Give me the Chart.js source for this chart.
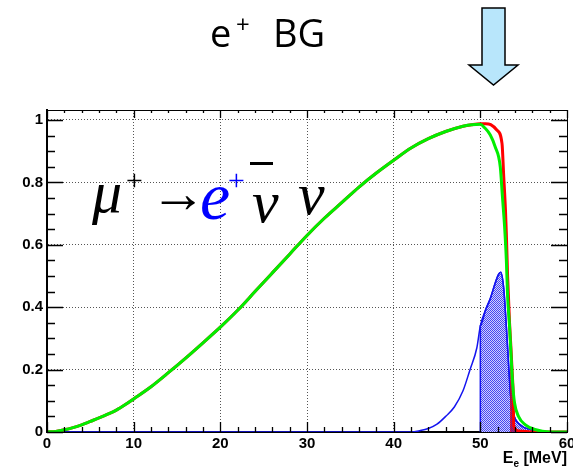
<!DOCTYPE html>
<html>
<head>
<meta charset="utf-8">
<title>e+ BG</title>
<script src="https://cdn.jsdelivr.net/npm/chart.js@4.4.1/dist/chart.umd.min.js"></script>
<style>
  html, body { margin: 0; padding: 0; background: #fff; }
  #chart { display: block; }
</style>
</head>
<body>
<canvas id="chart" width="573" height="469"></canvas>
<script>
// rising part, identical for both efficiency curves (MeV, fraction)
const riseE   = [0, 1, 2, 3, 4, 5, 6, 7, 8, 9, 10, 12, 14, 16, 18, 20, 22, 24, 26, 28, 30, 32, 34, 36, 38, 40, 42, 44, 46, 48, 49];
const riseEff = [0, 0.002, 0.007, 0.014, 0.023, 0.034, 0.045, 0.057, 0.07, 0.087, 0.106, 0.145, 0.19, 0.237, 0.286, 0.336, 0.39, 0.45, 0.51, 0.57, 0.63, 0.685, 0.735, 0.785, 0.83, 0.871, 0.91, 0.94, 0.963, 0.98, 0.985];

// red curve above 50 MeV
const redTailE   = [50, 50.6, 51.2, 51.9, 52.5, 52.7, 52.9, 53.0, 53.15, 53.37, 53.5, 53.7, 53.8, 53.85, 54.5, 56.5, 60];
const redTailEff = [0.988, 0.988, 0.985, 0.968, 0.925, 0.818, 0.711, 0.637, 0.497, 0.35, 0.285, 0.178, 0.114, 0.02, 0.003, 0, 0];

// green curve above 50 MeV
const greenTailE   = [50, 50.5, 51.15, 51.7, 52.3, 52.55, 52.8, 53.0, 53.15, 53.37, 53.57, 53.72, 53.95, 54.4, 55.2, 56.3, 58, 60];
const greenTailEff = [0.986, 0.975, 0.952, 0.915, 0.85, 0.754, 0.658, 0.552, 0.433, 0.338, 0.231, 0.157, 0.093, 0.05, 0.023, 0.008, 0, 0];

// blue spectrum
const blueE   = [0, 42, 43, 44, 45, 46, 47, 48, 48.8, 49.6, 50, 50.6, 51.15, 51.7, 52.1, 52.35, 52.7, 53.0, 53.3, 53.5, 53.8, 54.6, 55.8, 57, 60];
const blueVal = [0, 0, 0.004, 0.011, 0.025, 0.05, 0.08, 0.132, 0.199, 0.27, 0.34, 0.391, 0.428, 0.476, 0.505, 0.512, 0.46, 0.338, 0.199, 0.114, 0.06, 0.023, 0.008, 0.002, 0];

// shaded regions start here
const blueFillFrom = 50;
const redFillFrom = 53.5;

// axis ticks
const xTicks = [0, 10, 20, 30, 40, 50, 60];
const yTicks = [0, 0.2, 0.4, 0.6, 0.8, 1];

const toPoints = (xs, ys) => xs.map((x, i) => ({ x: x, y: ys[i] }));

const redPts = toPoints(riseE.concat(redTailE), riseEff.concat(redTailEff));
const greenPts = toPoints(riseE.concat(greenTailE), riseEff.concat(greenTailEff));
const bluePts = toPoints(blueE, blueVal);

// filled part starts with a vertical edge at the cut
const blueFillPts = [{ x: blueFillFrom, y: 0 }].concat(bluePts.filter(p => p.x >= blueFillFrom));
const redFillPts = [{ x: redFillFrom, y: 0 }].concat(redPts.filter(p => p.x >= redFillFrom));

// small checker pattern like the ROOT hatch
function checker(c1, c2) {
    const pc = document.createElement('canvas');
    pc.width = 2;
    pc.height = 2;
    const p = pc.getContext('2d');
    p.fillStyle = c2;
    p.fillRect(0, 0, 2, 2);
    p.fillStyle = c1;
    p.fillRect(0, 0, 1, 1);
    p.fillRect(1, 1, 1, 1);
    return p.createPattern(pc, 'repeat');
}

const boldFont = '"Liberation Sans", Arial, sans-serif';

// frame, inward ticks and texts
const decor = {
    id: 'decor',
    afterDraw(chart) {
        const ctx = chart.ctx;
        const xs = chart.scales.x;
        const ys = chart.scales.y;
        const a = chart.chartArea;

        ctx.save();
        // top and right frame
        ctx.strokeStyle = '#000';
        ctx.lineWidth = 1;
        ctx.beginPath();
        ctx.moveTo(a.left, a.top + 0.5);
        ctx.lineTo(a.right + 0.5, a.top + 0.5);
        ctx.lineTo(a.right + 0.5, a.bottom);
        ctx.stroke();

        // x ticks every 2 MeV, long at every 10
        ctx.lineWidth = 1.3;
        ctx.beginPath();
        for (let v = 0; v <= 60; v += 2) {
            const px = Math.round(xs.getPixelForValue(v)) + 0.5;
            const len = v % 10 === 0 ? 10 : 5;
            ctx.moveTo(px, a.bottom);
            ctx.lineTo(px, a.bottom - len);
            ctx.moveTo(px, a.top);
            ctx.lineTo(px, a.top + len - 2);
        }
        // y ticks every 0.05, long at every 0.2
        for (let i = 0; i <= 20; i++) {
            const py = Math.round(ys.getPixelForValue(i * 0.05)) + 0.5;
            const len = i % 4 === 0 ? 16 : 8;
            ctx.moveTo(a.left, py);
            ctx.lineTo(a.left + len, py);
            ctx.moveTo(a.right, py);
            ctx.lineTo(a.right - len, py);
        }
        ctx.stroke();

        // x axis title E_e [MeV]
        ctx.fillStyle = '#000';
        ctx.textBaseline = 'alphabetic';
        ctx.textAlign = 'left';
        ctx.font = 'bold 16px ' + boldFont;
        const wE = ctx.measureText('E').width;
        const wUnit = ctx.measureText(' [MeV]').width;
        ctx.font = 'bold 10px ' + boldFont;
        const wSub = ctx.measureText('e').width;
        let tx = a.right - (wE + wSub + wUnit);
        ctx.font = 'bold 16px ' + boldFont;
        ctx.fillText('E', tx, 463);
        ctx.font = 'bold 10px ' + boldFont;
        ctx.fillText('e', tx + wE, 467);
        ctx.font = 'bold 16px ' + boldFont;
        ctx.fillText(' [MeV]', tx + wE + wSub, 463);

        // title
        ctx.font = '38px "Open Sans", sans-serif';
        ctx.fillText('e', 210, 47);
        ctx.font = '24px "Open Sans", sans-serif';
        ctx.fillText('+', 236, 33);
        ctx.font = '38px "Open Sans", sans-serif';
        ctx.fillText('BG', 273, 47);

        // decay formula
        const serif = '"Liberation Serif", "DejaVu Serif", serif';
        ctx.font = 'italic 60px ' + serif;
        ctx.fillText('\u03bc', 92, 212);
        ctx.font = 'italic 30px ' + serif;
        ctx.fillText('+', 124, 190);
        ctx.font = '56px ' + serif;
        ctx.fillText('\u2192', 150, 212);
        ctx.fillStyle = '#0000ff';
        ctx.font = 'italic 68px ' + serif;
        ctx.fillText('e', 200, 219);
        ctx.font = 'italic 30px ' + serif;
        ctx.fillText('+', 226, 190);
        ctx.fillStyle = '#000';
        ctx.font = 'italic 60px ' + serif;
        ctx.fillText('\u03bd', 252, 222);
        ctx.fillText('\u03bd', 298, 214);
        ctx.fillRect(250, 162, 23, 3);

        // arrow
        ctx.beginPath();
        ctx.moveTo(482, 8);
        ctx.lineTo(505, 8);
        ctx.lineTo(505, 65);
        ctx.lineTo(518, 65);
        ctx.lineTo(493.5, 85);
        ctx.lineTo(469, 65);
        ctx.lineTo(482, 65);
        ctx.closePath();
        ctx.fillStyle = '#b8e6fb';
        ctx.fill();
        ctx.lineWidth = 1.5;
        ctx.strokeStyle = '#000';
        ctx.stroke();
        ctx.restore();
    }
};

const ctx = document.getElementById('chart').getContext('2d');

new Chart(ctx, {
    type: 'line',
    data: {
        datasets: [
            {
                label: 'green',
                data: greenPts,
                borderColor: '#00ee00',
                borderWidth: 3,
                fill: false
            },
            {
                label: 'red',
                data: redPts,
                borderColor: '#ff0000',
                borderWidth: 3,
                fill: false
            },
            {
                label: 'red fill',
                data: redFillPts,
                borderColor: '#cc0033',
                borderWidth: 1,
                backgroundColor: checker('#b01040', '#6a2aa8'),
                fill: 'origin'
            },
            {
                label: 'blue',
                data: bluePts,
                borderColor: '#1414f0',
                borderWidth: 1.5,
                fill: false
            },
            {
                label: 'blue fill',
                data: blueFillPts,
                borderColor: '#1414f0',
                borderWidth: 1.5,
                backgroundColor: checker('#4848f0', '#d0d0ff'),
                fill: 'origin'
            }
        ]
    },
    options: {
        responsive: false,
        animation: false,
        layout: { padding: { top: 110, right: 6, left: 0, bottom: 0 } },
        elements: { point: { radius: 0 }, line: { cubicInterpolationMode: 'monotone' } },
        plugins: { legend: { display: false }, tooltip: { enabled: false } },
        scales: {
            x: {
                type: 'linear',
                min: 0,
                max: 60,
                afterFit: s => { s.height = 37; s.paddingLeft = 0; s.paddingRight = 0; },
                afterBuildTicks: s => { s.ticks = xTicks.map(v => ({ value: v })); },
                ticks: {
                    autoSkip: false,
                    maxRotation: 0,
                    padding: 3,
                    color: '#000',
                    callback: v => String(v),
                    font: { family: boldFont, size: 15, weight: 'bold' }
                },
                grid: { color: '#555', lineWidth: 1, drawTicks: false },
                border: { display: true, color: '#000', width: 2, dash: [1, 2] }
            },
            y: {
                type: 'linear',
                min: 0,
                max: 1.032,
                afterFit: s => { s.width = 47; s.paddingTop = 0; },
                afterBuildTicks: s => { s.ticks = yTicks.map(v => ({ value: v })); },
                ticks: {
                    padding: 4,
                    color: '#000',
                    callback: v => String(v),
                    font: { family: boldFont, size: 15, weight: 'bold' }
                },
                grid: { color: '#555', lineWidth: 1, drawTicks: false },
                border: { display: true, color: '#000', width: 2, dash: [1, 2] }
            }
        }
    },
    plugins: [decor]
});
</script>
</body>
</html>
